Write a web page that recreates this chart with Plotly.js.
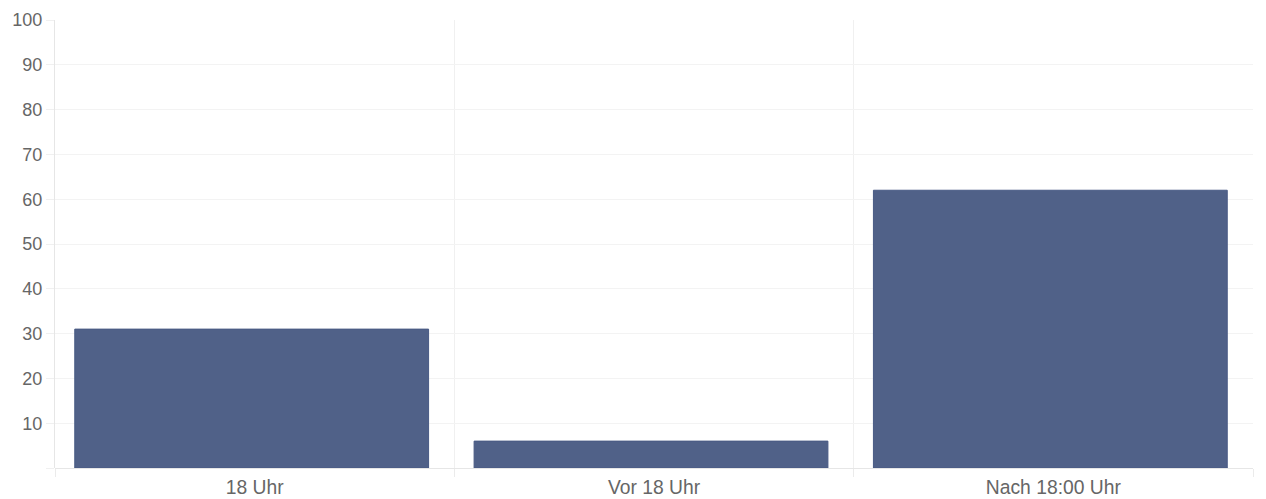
<!DOCTYPE html>
<html>
<head>
<meta charset="utf-8">
<script src="https://cdn.plot.ly/plotly-3.0.1.min.js"></script>
<style>
html,body{margin:0;padding:0;background:#fff;}
#chart{width:1266px;height:499px;}
</style>
</head>
<body>
<div id="chart"></div>
<script>
const categories = ["18 Uhr", "Vor 18 Uhr", "Nach 18:00 Uhr"];
const values = [31, 6, 62];
const yTickValues = [0, 10, 20, 30, 40, 50, 60, 70, 80, 90, 100];
const yTickLabels = ["", "10", "20", "30", "40", "50", "60", "70", "80", "90", "100"];

const trace = {
  type: "bar",
  x: categories,
  y: values,
  width: 0.886,
  offset: -0.4505,
  marker: {color: "#506188", line: {color: "#485a84", width: 1}},
  hoverinfo: "x+y"
};

const layout = {
  width: 1266,
  height: 499,
  margin: {l: 55, r: 13, t: 20, b: 31},
  paper_bgcolor: "#fff",
  plot_bgcolor: "#fff",
  showlegend: false,
  font: {family: "Liberation Sans, Arial, sans-serif", size: 18, color: "#666"},
  xaxis: {
    type: "category",
    tickson: "boundaries",
    showgrid: true,
    gridcolor: "#f0f0f0",
    gridwidth: 1,
    ticks: "outside",
    ticklen: 8,
    tickcolor: "#ebebeb",
    ticklabelstandoff: 6,
    showline: false,
    zeroline: false,
    tickfont: {size: 19.3, color: "#666"}
  },
  yaxis: {
    range: [0, 100],
    tickvals: yTickValues,
    ticktext: yTickLabels,
    showgrid: true,
    gridcolor: "#f3f3f3",
    gridwidth: 1,
    ticks: "outside",
    ticklen: 8,
    tickcolor: "#f0f0f0",
    showline: true,
    linecolor: "#e6e6e6",
    linewidth: 1,
    zeroline: true,
    zerolinecolor: "#e6e6e6",
    zerolinewidth: 1,
    tickfont: {size: 18, color: "#666"}
  }
};

Plotly.newPlot("chart", [trace], layout, {displayModeBar: false, staticPlot: true});
</script>
</body>
</html>
